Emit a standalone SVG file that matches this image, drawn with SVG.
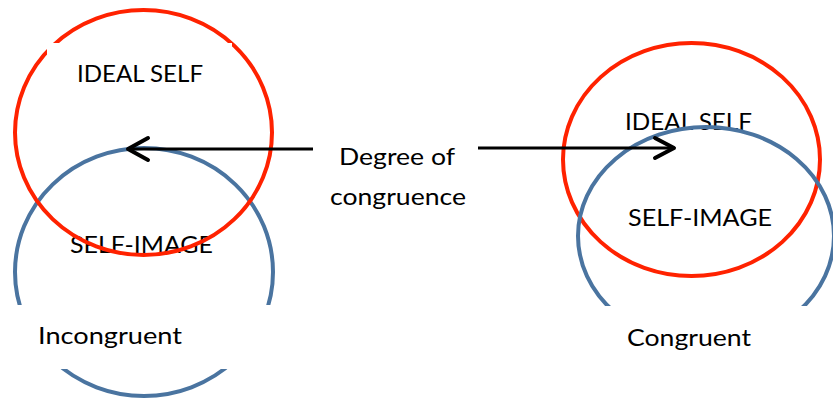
<svg xmlns="http://www.w3.org/2000/svg" width="833" height="398" viewBox="0 0 833 398">
<style>
.red{fill:none;stroke:#FF2200;stroke-width:4}
.blue{fill:none;stroke:#4A74A0;stroke-width:4}
.lbl{font-family:Lato,"Open Sans","Liberation Sans",sans-serif;font-size:24px;fill:#000}
.mask{fill:#fff}
.ln{stroke:#000;stroke-width:3;fill:none}
.head{stroke:#000;stroke-width:4;fill:none;stroke-linecap:round;stroke-linejoin:round}
</style>
<rect width="833" height="398" fill="#fff"/>
<g id="left-self-image">
<ellipse class="blue" cx="144" cy="272" rx="129" ry="124"/>
<text class="lbl" x="70" y="253" textLength="143" lengthAdjust="spacingAndGlyphs">SELF-IMAGE</text>
</g>
<g id="left-ideal-self">
<ellipse class="red" cx="143.5" cy="132.5" rx="128.5" ry="122.5"/>
<rect class="mask" x="47" y="43" width="185" height="57"/>
<text class="lbl" x="77" y="82" textLength="126" lengthAdjust="spacingAndGlyphs">IDEAL SELF</text>
</g>
<g id="label-incongruent">
<rect class="mask" x="8" y="305" width="272" height="64"/>
<text class="lbl" x="38" y="344" textLength="144" lengthAdjust="spacingAndGlyphs">Incongruent</text>
</g>
<g id="right-ideal-self">
<ellipse class="red" cx="691.5" cy="159.5" rx="128.5" ry="116.5"/>
<text class="lbl" x="625" y="130" textLength="127" lengthAdjust="spacingAndGlyphs">IDEAL SELF</text>
</g>
<g id="right-self-image">
<ellipse class="blue" cx="706" cy="236" rx="128" ry="109"/>
<text class="lbl" x="628" y="226" textLength="144" lengthAdjust="spacingAndGlyphs">SELF-IMAGE</text>
</g>
<g id="label-congruent">
<rect class="mask" x="560" y="306" width="273" height="64"/>
<text class="lbl" x="627" y="346" textLength="124" lengthAdjust="spacingAndGlyphs">Congruent</text>
</g>
<g id="label-degree">
<text class="lbl" x="339" y="165" textLength="116" lengthAdjust="spacingAndGlyphs">Degree of</text>
<text class="lbl" x="330" y="205" textLength="136" lengthAdjust="spacingAndGlyphs">congruence</text>
</g>
<g id="connectors">
<line class="ln" x1="313" y1="149" x2="129" y2="149"/>
<polyline class="head" points="148,138 128,149 148,160"/>
<line class="ln" x1="478" y1="148" x2="673" y2="148"/>
<polyline class="head" points="655,138 674,148 655,158"/>
</g>
</svg>
